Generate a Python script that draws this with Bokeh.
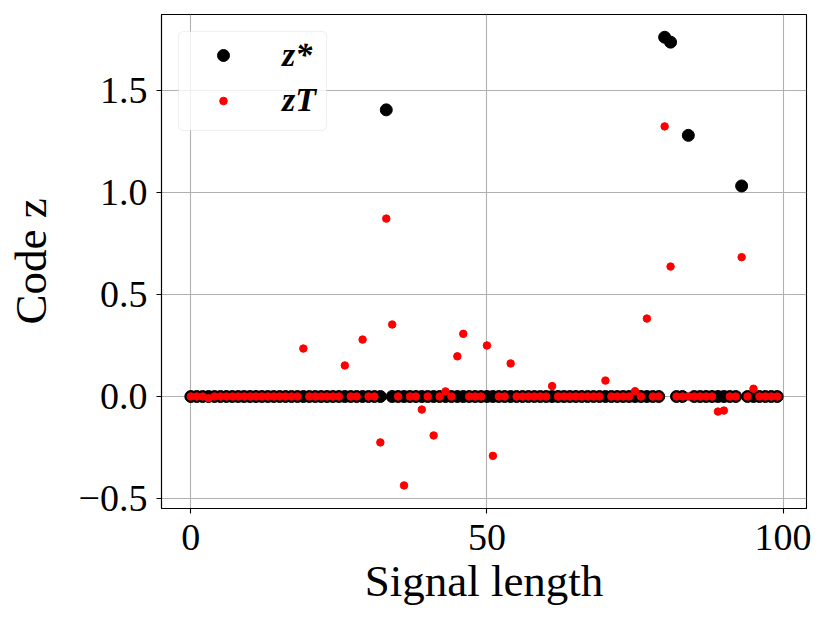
from bokeh.plotting import figure
from bokeh.models import (FixedTicker, CustomJSTickFormatter, Range1d, Legend, LegendItem,
                          ColumnDataSource, BoxAnnotation)
from bokeh.embed import file_html
from bokeh.resources import INLINE

# ---- data ----
signal_index = list(range(100))

z_star = [
    0, 0, 0, 0, 0, 0, 0, 0, 0, 0,
    0, 0, 0, 0, 0, 0, 0, 0, 0, 0,
    0, 0, 0, 0, 0, 0, 0, 0, 0, 0,
    0, 0, 0, 1.405, 0, 0, 0, 0, 0, 0,
    0, 0, 0, 0, 0, 0, 0, 0, 0, 0,
    0, 0, 0, 0, 0, 0, 0, 0, 0, 0,
    0, 0, 0, 0, 0, 0, 0, 0, 0, 0,
    0, 0, 0, 0, 0, 0, 0, 0, 0, 0,
    1.761, 1.737, 0, 0, 1.280, 0, 0, 0, 0, 0,
    0, 0, 0, 1.032, 0, 0, 0, 0, 0, 0,
]

z_T = [
    0, 0, 0, -0.008, 0, 0, 0, 0, 0, 0,
    0, 0, 0, 0, 0, 0, 0, 0, 0, 0.235,
    0, 0, 0, 0, 0, 0, 0.152, 0, 0, 0.279,
    0, 0, -0.225, 0.872, 0.353, 0, -0.436, 0, 0, -0.064,
    0, -0.191, 0, 0.025, 0, 0.197, 0.307, 0, 0, 0,
    0.250, -0.291, 0, 0, 0.162, 0, 0, 0, 0, 0,
    0, 0.051, 0, 0, 0, 0, 0, 0, 0, 0,
    0.078, 0, 0, 0, 0, 0.026, 0, 0.382, 0, 0,
    1.324, 0.637, 0, 0, 0, 0, 0, 0, 0, -0.074,
    -0.069, 0, 0, 0.683, 0, 0.038, 0, 0, 0, 0,
]

x_ticks = [0, 50, 100]
y_ticks = [-0.5, 0.0, 0.5, 1.0, 1.5]
x_label = "Signal length"
y_label = "Code z"
legend_labels = ["z*", "zT"]

# ---- figure ----
SERIF = "Liberation Serif"
FW, FH = 645, 494
X0, X1 = -4.95, 103.95
Y0, Y1 = -0.549, 1.8725

p = figure(
    output_backend="svg", toolbar_location=None,
    frame_width=FW, frame_height=FH,
    min_border_left=161, min_border_right=15, min_border_top=14, min_border_bottom=100,
    x_range=Range1d(X0, X1), y_range=Range1d(Y0, Y1),
)
p.background_fill_color = "white"
p.border_fill_color = "white"
p.outline_line_color = "black"
p.outline_line_width = 1.1

src = ColumnDataSource(dict(x=signal_index, zs=z_star, zt=z_T))
r_star = p.scatter("x", "zs", source=src, size=12, fill_color="black", line_color="black")
r_T = p.scatter("x", "zt", source=src, size=7.5, fill_color="red", line_color="red")

for ax in (p.xaxis[0], p.yaxis[0]):
    ax.axis_line_color = "black"
    ax.axis_line_width = 1.1
    ax.major_tick_line_color = "black"
    ax.major_tick_line_width = 1.1
    ax.major_tick_out = 5
    ax.major_tick_in = 0
    ax.minor_tick_line_color = None
    ax.major_label_text_font = SERIF
    ax.major_label_text_font_size = "38px"
    ax.major_label_text_color = "black"
    ax.axis_label_text_font = SERIF
    ax.axis_label_text_font_size = "45px"
    ax.axis_label_text_font_style = "normal"
    ax.axis_label_text_color = "black"

p.xaxis[0].ticker = FixedTicker(ticks=x_ticks)
p.yaxis[0].ticker = FixedTicker(ticks=y_ticks)
p.yaxis[0].formatter = CustomJSTickFormatter(code="return tick.toFixed(1).replace('-', '\u2212');")
p.xaxis[0].axis_label = x_label
p.yaxis[0].axis_label = y_label
p.xaxis[0].major_label_standoff = 11
p.yaxis[0].major_label_standoff = 9
p.xaxis[0].axis_label_standoff = 3
p.yaxis[0].axis_label_standoff = 20

for g in (p.xgrid[0], p.ygrid[0]):
    g.grid_line_color = "#b0b0b0"
    g.grid_line_width = 1.1
p.xgrid[0].ticker = FixedTicker(ticks=x_ticks)
p.ygrid[0].ticker = FixedTicker(ticks=y_ticks)

# ---- legend frame (screen px inside the frame -> data units) ----
def sx(px):
    return X0 + px / FW * (X1 - X0)

def sy(py):
    return Y1 - py / FH * (Y1 - Y0)

box = BoxAnnotation(left=sx(17), right=sx(165), top=sy(17), bottom=sy(116),
                    fill_color="white", fill_alpha=0.8,
                    line_color="#cccccc", line_width=1.1, border_radius=5)
p.add_layout(box)

common = dict(padding=0, spacing=0, glyph_width=90, label_height=40, label_standoff=14,
              label_text_font=SERIF, label_text_font_style="bold italic",
              label_text_font_size="34px", label_text_color="black",
              background_fill_alpha=0, border_line_color=None, margin=0)

leg_a = Legend(items=[LegendItem(label=legend_labels[0], renderers=[r_star])],
               location=(17, FH - 17 - 44), glyph_height=30, **common)
leg_b = Legend(items=[LegendItem(label=legend_labels[1], renderers=[r_T])],
               location=(17, FH - 66 - 40), glyph_height=19, **common)
p.add_layout(leg_a, "center")
p.add_layout(leg_b, "center")

open("out.html", "w").write(file_html(p, INLINE))
